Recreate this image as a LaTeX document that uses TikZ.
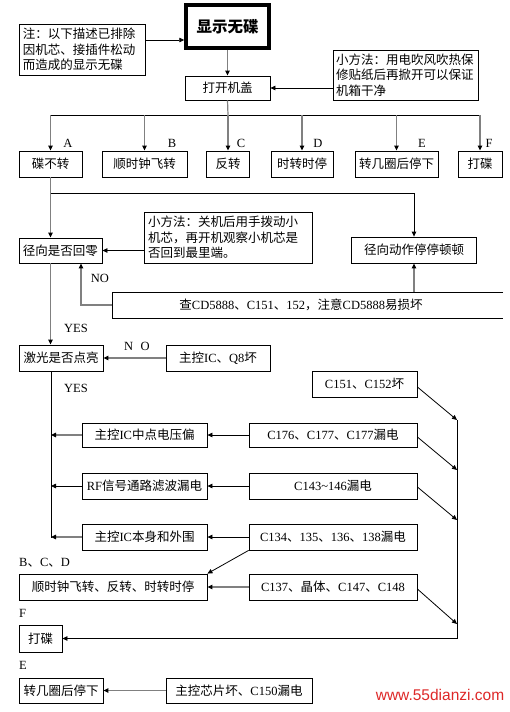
\documentclass[tikz,border=0pt]{standalone}
\usepackage{fontspec}
\setmainfont{Liberation Serif}
\newfontfamily\cjk{Noto Sans CJK SC}
\newfontfamily\wmfont{Liberation Sans}
\XeTeXinterchartokenstate=1
\newXeTeXintercharclass\CJKcls
\newcount\cjkc
\cjkc="3000
\loop \XeTeXcharclass\cjkc=\CJKcls \advance\cjkc 1 \ifnum\cjkc<"A000 \repeat
\cjkc="FF00
\loop \XeTeXcharclass\cjkc=\CJKcls \advance\cjkc 1 \ifnum\cjkc<"FFF0 \repeat
\XeTeXinterchartoks 0 \CJKcls={\cjk}
\XeTeXinterchartoks 4095 \CJKcls={\cjk}
\XeTeXinterchartoks \CJKcls 0={\rmfamily}
\newcommand\fsz{\fontsize{12.5}{15.5}\selectfont}
\usetikzlibrary{arrows.meta}
\definecolor{wmred}{RGB}{222,40,40}
\definecolor{lg}{RGB}{128,128,128}
\begin{document}
\begin{tikzpicture}[x=1pt,y=-1pt,
  box/.style={draw,line width=0.8pt,inner sep=0pt,font=\fsz},
  lab/.style={inner sep=0pt,font=\fsz},
  arr/.style={line width=0.8pt,-{Triangle[length=5pt,width=4.5pt]}},
  garr/.style={draw=lg,line width=1.2pt,-{Triangle[length=5pt,width=4.5pt,color=black]}},
  ln/.style={line width=0.8pt},
  gln/.style={draw=lg,line width=1.2pt}]
\useasboundingbox[fill=white] (0,0) rectangle (510,712);

% top
\node[box,minimum width=126pt,minimum height=51pt,text width=118pt,align=left] (note) at (82,49.5) {注：以下描述已排除\\因机芯、接插件松动\\而造成的显示无碟};
\node[box,line width=3.5pt,minimum width=83pt,minimum height=43pt,font=\fontsize{15.5}{18}\selectfont\bfseries] (title) at (227.5,26.5) {显示无碟};
\node[box,minimum width=85pt,minimum height=24pt] (open) at (227.5,88) {打开机盖};
\node[box,minimum width=145pt,minimum height=50pt,text width=139pt,align=left] (tip1) at (405.5,75) {小方法：用电吹风吹热保\\修贴纸后再掀开可以保证\\机箱干净};

\draw[arr] ([yshift=9.5pt]note.east) -- ([yshift=9.5pt]note.east -| title.west);
\draw[garr] (title.south) -- (open.north);
\draw[arr] ([yshift=-13pt]tip1.west) -- ([yshift=-13pt]tip1.west -| open.east);

% branch row
\node[box,minimum width=63pt,minimum height=26pt] (A) at (50.5,164) {碟不转};
\node[box,minimum width=85pt,minimum height=26pt] (B) at (144.5,164) {顺时钟飞转};
\node[box,minimum width=43pt,minimum height=26pt] (C) at (228,164) {反转};
\node[box,minimum width=62pt,minimum height=26pt] (D) at (302,164) {时转时停};
\node[box,minimum width=83pt,minimum height=26pt] (E) at (396.5,164) {转几圈后停下};
\node[box,minimum width=44pt,minimum height=26pt] (F) at (480,164) {打碟};
\node[lab] (la) at (68,143) {A};
\node[lab] (lb) at (172,143) {B};
\node[lab] (lc) at (241,143) {C};
\node[lab] (ld) at (318,143) {D};
\node[lab] (le) at (422,143) {E};
\node[lab] (lf) at (489,143) {F};

\coordinate (br) at (228,115);
\draw[ln] (A.north |- br) -- (F.north |- br);
\draw[gln] (open.south) -- (br);
\foreach \n in {A,B,C,D,E,F} \draw[garr] (\n.north |- br) -- (\n.north);

% radial section
\node[box,minimum width=83pt,minimum height=25pt] (r0) at (60.5,250.5) {径向是否回零};
\node[box,minimum width=168pt,minimum height=51pt,text width=160pt,align=left] (tip2) at (228,237.5) {小方法：关机后用手拨动小\\机芯，再开机观察小机芯是\\否回到最里端。};
\node[box,minimum width=125pt,minimum height=26pt] (rs) at (414,250) {径向动作停停顿顿};
\node[lab] (cd) at (301,305) {查CD5888、C151、152，注意CD5888易损坏};
\coordinate (cdtr) at (503,292);
\coordinate (cdtl) at (112,292);
\coordinate (cdbl) at (112,318);
\coordinate (cdbr) at (503,318);
\draw[ln] (cdtr) -- (cdtl) -- (cdbl) -- (cdbr);
\coordinate (cdw) at (112,305);

\draw[garr] (A.south) -- (A.south |- r0.north);
\draw[arr] (A.south) ++(0,16) -| (rs.north);
\draw[arr] (tip2.west |- r0.east) -- (r0.east);
\draw[garr] (rs.south |- cdtl) -- (rs.south);
\draw[garr] (cdw) -| ([xshift=20.5pt]r0.south);
\node[lab] (lno) at (100,278) {NO};
\node[lab] (lyes) at (76,328) {YES};

% laser section
\node[box,minimum width=84pt,minimum height=26pt] (laser) at (61,358) {激光是否点亮};
\node[box,minimum width=104pt,minimum height=26pt] (q8) at (218,358) {主控IC、Q8坏};
\draw[garr] (A.south |- r0.south) -- (A.south |- laser.north);
\draw[garr] (q8.west) -- (laser.east);
\node[lab] (lno2) at (137,346) {N\hspace{0.6em}O};
\node[lab] (lyes2) at (76,388) {YES};

\node[box,minimum width=105pt,minimum height=26pt] (c151) at (364.5,384) {C151、C152坏};
\node[box,minimum width=125pt,minimum height=24pt] (mid) at (144.5,435) {主控IC中点电压偏};
\node[box,minimum width=168pt,minimum height=24pt] (c176) at (333,435) {C176、C177、C177漏电};
\node[box,minimum width=125pt,minimum height=26pt] (rf) at (144.5,486) {RF信号通路滤波漏电};
\node[box,minimum width=168pt,minimum height=26pt] (c143) at (333,486) {C143\textasciitilde146漏电};
\node[box,minimum width=125pt,minimum height=26pt] (ic) at (144.5,537) {主控IC本身和外围};
\node[box,minimum width=168pt,minimum height=26pt] (c134) at (333,537) {C134、135、136、138漏电};
\node[box,minimum width=188pt,minimum height=26pt] (bcd) at (113,587) {顺时钟飞转、反转、时转时停};
\node[box,minimum width=168pt,minimum height=26pt] (c137) at (333,587) {C137、晶体、C147、C148};
\node[box,minimum width=43pt,minimum height=27pt] (fd) at (40.5,638.5) {打碟};
\node[box,minimum width=84pt,minimum height=25pt] (ee) at (61,690.5) {转几圈后停下};
\node[box,minimum width=146pt,minimum height=25pt] (chip) at (239,690.5) {主控芯片坏、C150漏电};
\node[lab,anchor=west] (lbcd) at (19,563) {B、C、D};
\node[lab,anchor=west] (lF) at (19,613) {F};
\node[lab,anchor=west] (lE) at (19,665) {E};

% left bus
\coordinate (lt) at (51,371);
\coordinate (lbot) at (51,538);
\draw[ln] (lt) -- (lbot);
\draw[garr] (mid.west) -- (mid.west -| lt);
\draw[arr] (rf.west) -- (rf.west -| lt);
\draw[garr] (ic.west) -- (ic.west -| lt);
\draw[arr] (c176.west) -- (mid.east);
\draw[arr] (c143.west) -- (rf.east);
\draw[arr] (c134.west) -- (ic.east);
\draw[garr] (c137.west) -- (bcd.east);
\draw[arr] (c134.south west) -- (bcd.north east);

% right bus
\coordinate (bt) at (457,420);
\coordinate (b2) at (457,470);
\coordinate (b3) at (457,520);
\coordinate (b4) at (457,624);
\draw[arr] (bt) |- (fd.east);
\draw[arr] ([yshift=-3pt]c151.east) -- (bt);
\draw[arr] ([yshift=-2pt]c176.east) -- (b2);
\draw[arr] ([yshift=-1pt]c143.east) -- (b3);
\draw[arr] ([yshift=-2pt]c137.east) -- (b4);

\draw[garr] (chip.west) -- (ee.east);

\node[inner sep=0pt,font=\fontsize{15.5}{18}\selectfont\wmfont,text=wmred] (wm) at (440,695) {www.55dianzi.com};
\end{tikzpicture}
\end{document}
